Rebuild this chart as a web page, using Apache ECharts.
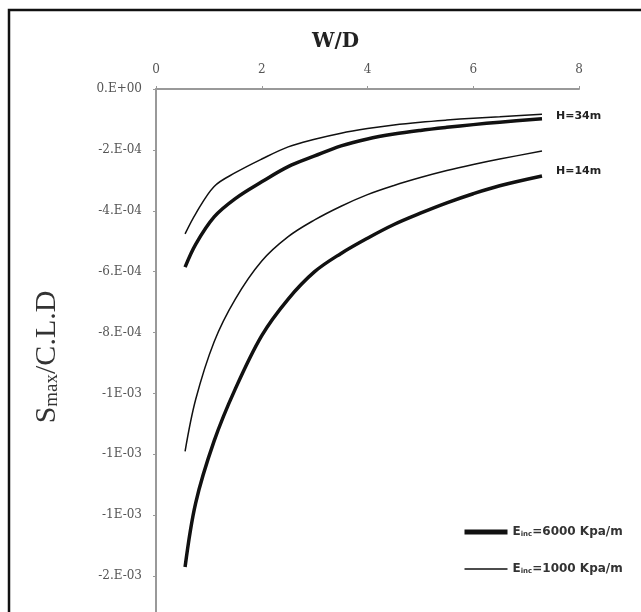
<!DOCTYPE html>
<html>
<head>
<meta charset="utf-8">
<script src="https://cdn.jsdelivr.net/npm/echarts@6/dist/echarts.min.js"></script>
<style>
  html, body { margin: 0; padding: 0; background: #fff; }
  #chart { width: 641px; height: 612px; }
</style>
</head>
<body>
<div id="chart"></div>
<script>
// W/D values
var wd = [0.55, 0.75, 1.1, 1.5, 2, 2.5, 3, 3.5, 4, 4.5, 5, 5.5, 6, 6.5, 7.3];

// Smax/C.L.D (x1e-4)
var h34Stiff = [-5.85, -5.1, -4.2, -3.6, -3.05, -2.55, -2.2, -1.87, -1.64, -1.48, -1.36, -1.26, -1.17, -1.09, -0.98];
var h34Soft = [-4.76, -4.1, -3.2, -2.75, -2.3, -1.9, -1.65, -1.45, -1.3, -1.18, -1.09, -1.02, -0.96, -0.91, -0.83];
var h14Stiff = [-15.7, -13.6, -11.56, -9.85, -8.1, -6.9, -6.0, -5.4, -4.9, -4.45, -4.08, -3.74, -3.44, -3.18, -2.86];
var h14Soft = [-11.9, -10.2, -8.3, -6.9, -5.65, -4.85, -4.3, -3.85, -3.47, -3.17, -2.91, -2.68, -2.48, -2.3, -2.04];

var xTicks = ['0', '2', '4', '6', '8'];
var yTickLabels = ['0.E+00', '-2.E-04', '-4.E-04', '-6.E-04', '-8.E-04', '-1E-03', '-1E-03', '-1E-03', '-2.E-03', '-2.E-03'];

function pairs(vals) {
    return wd.map(function (x, i) { return [x, vals[i] * 1e-4]; });
}

var serif = '"Liberation Serif", "DejaVu Serif", serif';
var wideSerif = '"DejaVu Serif", "Liberation Serif", serif';
var sans = '"DejaVu Sans", "Liberation Sans", sans-serif';

var chart = echarts.init(document.getElementById('chart'));

function lineSeries(name, vals, width) {
    return {
        name: name,
        type: 'line',
        data: pairs(vals),
        smooth: 0.35,
        symbol: 'none',
        lineStyle: { color: '#111', width: width },
        itemStyle: { color: '#111', borderWidth: 0 },
        z: 3
    };
}

var series = [
    lineSeries('6000', h34Stiff, 3.5),
    lineSeries('1000', h34Soft, 1.5),
    lineSeries('6000', h14Stiff, 3.5),
    lineSeries('1000', h14Soft, 1.5)
];
series[1].endLabel = {
    show: true, formatter: 'H=34m', color: '#222', fontFamily: sans,
    fontWeight: 'bold', fontSize: 11, distance: 14, offset: [0, 2]
};
series[3].endLabel = {
    show: true, formatter: 'H=14m', color: '#222', fontFamily: sans,
    fontWeight: 'bold', fontSize: 11, distance: 14, offset: [0, 20]
};

chart.setOption({
    animation: false,
    backgroundColor: '#fff',
    graphic: [{
        type: 'rect',
        shape: { x: 9, y: 10, width: 700, height: 700 },
        style: { fill: 'none', stroke: '#111', lineWidth: 2.5 },
        silent: true
    }],
    legend: {
        orient: 'vertical',
        left: 457,
        top: 521,
        itemWidth: 43,
        itemHeight: 14,
        itemGap: 25,
        itemStyle: { opacity: 0 },
        data: [
            { name: '6000', lineStyle: { width: 5 } },
            { name: '1000', lineStyle: { width: 1.5 } }
        ],
        formatter: function (name) {
            return 'E{sub|inc}=' + name + ' Kpa/m';
        },
        textStyle: {
            fontFamily: sans,
            fontSize: 12,
            fontWeight: 'bold',
            color: '#333',
            rich: {
                sub: { fontSize: 7, fontFamily: sans, fontWeight: 'bold', color: '#333', verticalAlign: 'bottom', padding: [5, 0, 0, 0] }
            }
        }
    },
    grid: { left: 156, right: 62, top: 89, height: 548, outerBoundsMode: 'none', containLabel: false },
    xAxis: {
        type: 'value',
        position: 'top',
        min: 0,
        max: 8,
        interval: 2,
        name: 'W/D',
        nameLocation: 'middle',
        nameGap: 37,
        nameTextStyle: { fontFamily: wideSerif, fontSize: 20, fontWeight: 'bold', color: '#222', padding: [0, 64, 0, 0] },
        axisLine: { lineStyle: { color: '#999', width: 2 } },
        axisTick: { show: true, length: 3, lineStyle: { color: '#999' } },
        axisLabel: {
            fontFamily: wideSerif, fontSize: 12, color: '#555', margin: 13,
            formatter: function (v) { return xTicks[Math.round(v / 2)]; }
        },
        splitLine: { show: false }
    },
    yAxis: {
        type: 'value',
        min: -1.8e-3,
        max: 0,
        interval: 2e-4,
        name: '{s|S}{m|max}{s|/C.L.D}',
        nameLocation: 'middle',
        nameGap: 94,
        nameRotate: 90,
        nameTextStyle: {
            padding: [0, 0, 0, 12],
            rich: {
                s: { fontFamily: serif, fontSize: 30, color: '#333' },
                m: { fontFamily: serif, fontSize: 19, color: '#333', verticalAlign: 'bottom', padding: [10, 0, 0, 0] }
            }
        },
        axisLine: { show: true, lineStyle: { color: '#999', width: 2 } },
        axisTick: { show: true, length: 3, lineStyle: { color: '#999' } },
        axisLabel: {
            fontFamily: wideSerif, fontSize: 12, color: '#555', margin: 14,
            formatter: function (v) { return yTickLabels[Math.round(-v / 2e-4)]; }
        },
        splitLine: { show: false }
    },
    series: series
});
</script>
</body>
</html>
